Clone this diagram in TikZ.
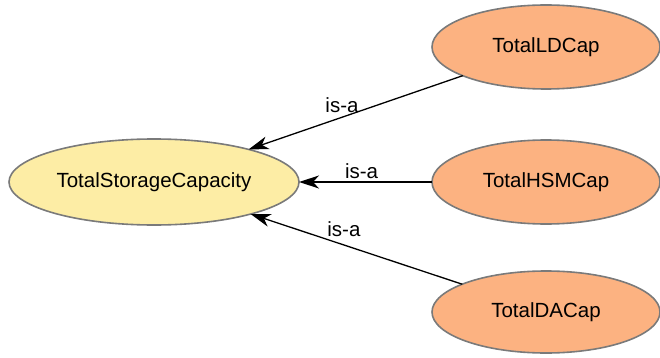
\documentclass[tikz,border=0pt]{standalone}
\usepackage{fontspec}
\setmainfont{Liberation Sans}
\usetikzlibrary{arrows.meta,shapes.geometric}
\definecolor{classyellow}{HTML}{FDEDA5}
\definecolor{classorange}{HTML}{FCB281}
\definecolor{bordergray}{HTML}{7A7A7A}
\tikzset{
  cls/.style={ellipse, draw=bordergray, line width=1.6pt, inner sep=0pt, outer sep=0pt,
    font=\fontsize{20.5}{24}\selectfont, text=black},
  root/.style={cls, fill=classyellow, minimum width=290pt, minimum height=86pt},
  sub/.style={cls, fill=classorange, minimum width=228pt, minimum height=84pt},
  isa/.style={draw=black, line width=1.3pt, -{Stealth[length=20pt,width=13pt,inset=6pt]}},
  lbl/.style={font=\fontsize{20.5}{24}\selectfont, anchor=base, inner sep=0pt}
}
\begin{document}
\begin{tikzpicture}[x=1pt,y=-1pt]
\useasboundingbox (0,0) rectangle (660,358);
\node[root] (tsc) at (154,182) {TotalStorageCapacity};
\node[sub] (ld) at (546,47) {TotalLDCap};
\node[sub] (hsm) at (546,182) {TotalHSMCap};
\node[sub, minimum height=82pt] (da) at (546,312) {TotalDACap};
\draw[isa] (ld) -- node[lbl, pos=0.564, yshift=5pt] (l1) {is-a} (tsc);
\draw[isa] (hsm) -- node[lbl, pos=0.53, yshift=4pt] (l2) {is-a} (tsc);
\draw[isa] (da) -- node[lbl, pos=0.559, yshift=8pt] (l3) {is-a} (tsc);
\end{tikzpicture}
\end{document}
